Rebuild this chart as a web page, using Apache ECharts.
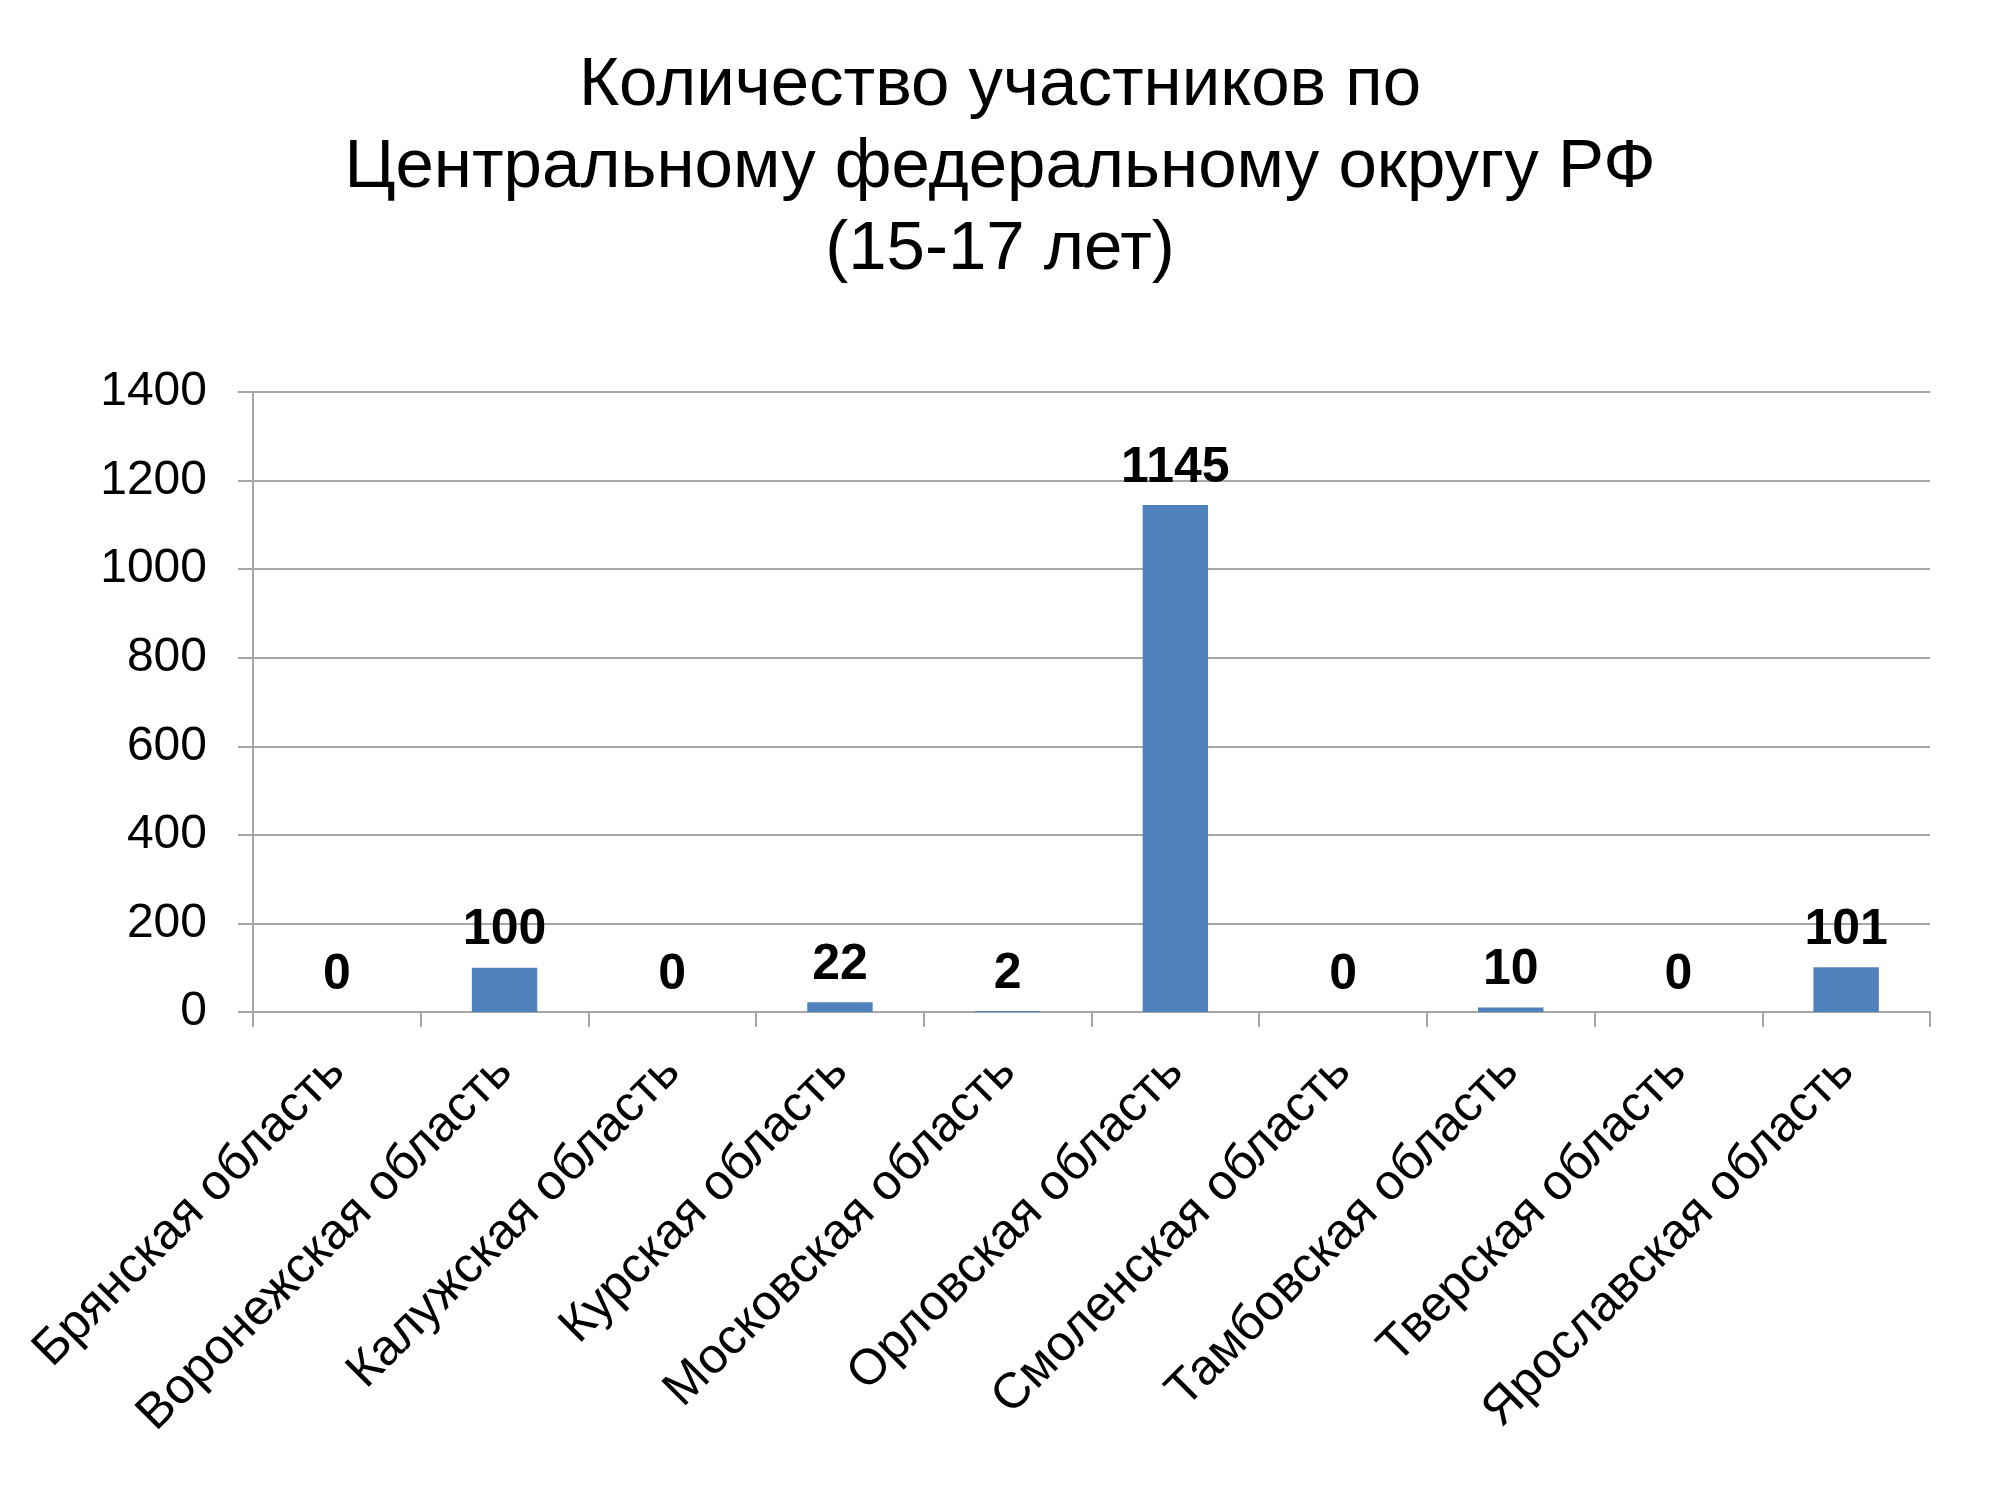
<!DOCTYPE html>
<html>
<head>
<meta charset="utf-8">
<script src="https://cdn.jsdelivr.net/npm/echarts@6/dist/echarts.min.js"></script>
<style>
html,body{margin:0;padding:0;background:#fff;}
#c{width:2000px;height:1500px;}
</style>
</head>
<body>
<div id="c"></div>
<script>
const titleLines = ['Количество участников по', 'Центральному федеральному округу РФ', '(15-17 лет)'];
const categories = ['Брянская область', 'Воронежская область', 'Калужская область', 'Курская область', 'Московская область', 'Орловская область', 'Смоленская область', 'Тамбовская область', 'Тверская область', 'Ярославская область'];
const values = [0, 100, 0, 22, 2, 1145, 0, 10, 0, 101];
const yMin = 0, yMax = 1400, yStep = 200;

const chart = echarts.init(document.getElementById('c'));
chart.setOption({
  backgroundColor: '#ffffff',
  animation: false,
  title: {
    text: titleLines.join('\n'),
    left: 'center',
    top: 40,
    textStyle: {
      fontFamily: 'Liberation Sans, Arial, sans-serif',
      fontSize: 69,
      fontWeight: 'normal',
      color: '#000',
      lineHeight: 82
    }
  },
  grid: { left: 253, right: 70, top: 392, bottom: 488, containLabel: false },
  xAxis: {
    type: 'category',
    data: categories,
    boundaryGap: true,
    axisLine: { lineStyle: { color: '#a6a6a6', width: 2 } },
    axisTick: { show: true, alignWithLabel: false, length: 15, lineStyle: { color: '#a6a6a6', width: 2 } },
    axisLabel: {
      interval: 0,
      rotate: 45,
      margin: 52,
      fontFamily: 'Liberation Sans, Arial, sans-serif',
      fontSize: 50,
      color: '#000'
    }
  },
  yAxis: {
    type: 'value',
    min: yMin, max: yMax, interval: yStep,
    axisLine: { show: true, lineStyle: { color: '#a6a6a6', width: 2 } },
    axisTick: { show: true, length: 15, lineStyle: { color: '#a6a6a6', width: 2 } },
    splitLine: { show: true, lineStyle: { color: '#a6a6a6', width: 2 } },
    axisLabel: {
      margin: 46,
      formatter: function (v) { return String(v); },
      fontFamily: 'Liberation Sans, Arial, sans-serif',
      fontSize: 48,
      color: '#000'
    }
  },
  series: [{
    type: 'bar',
    data: values,
    barCategoryGap: '61%',
    itemStyle: { color: '#4f81bd' },
    label: {
      show: true,
      position: 'top',
      distance: 12,
      fontFamily: 'Liberation Sans, Arial, sans-serif',
      fontWeight: 'bold',
      fontSize: 50,
      color: '#000'
    }
  }]
});
</script>
</body>
</html>
